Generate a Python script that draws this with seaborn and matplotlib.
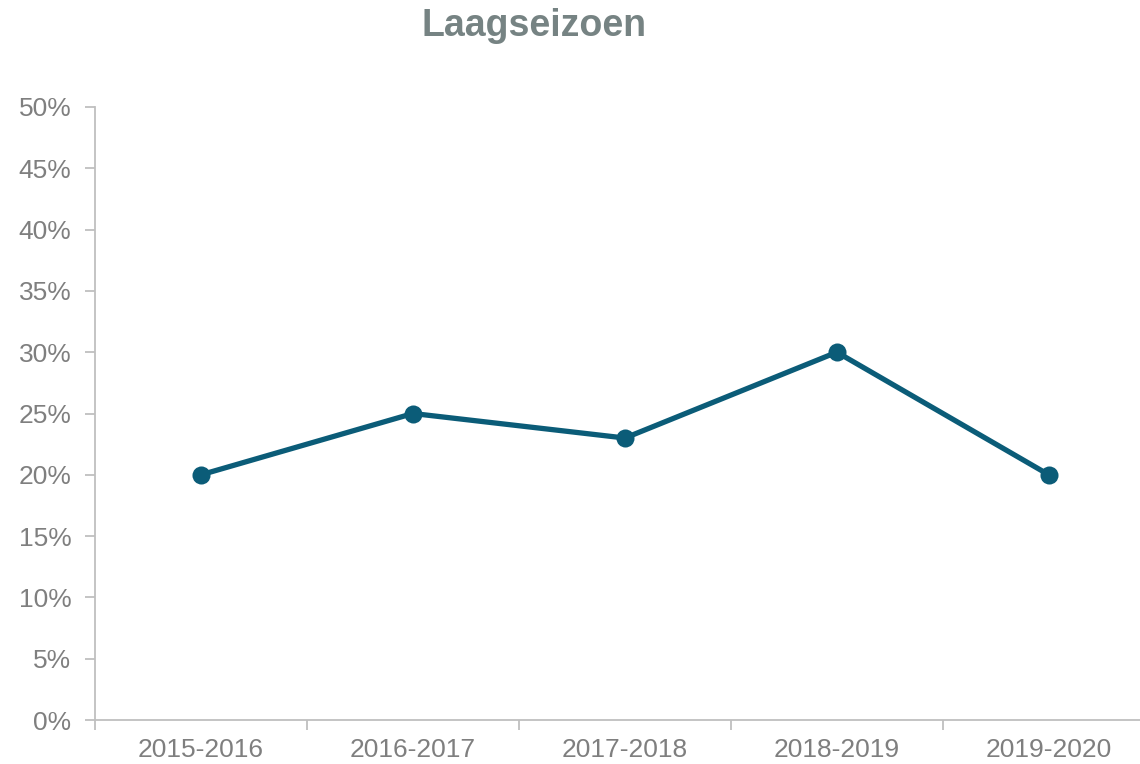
import matplotlib
matplotlib.use("Agg")
import matplotlib.pyplot as plt
import seaborn as sns
import pandas as pd
from matplotlib.ticker import FixedLocator

seasons = ["2015-2016", "2016-2017", "2017-2018", "2018-2019", "2019-2020"]
values = [20, 25, 23, 30, 20]
yticks = [0, 5, 10, 15, 20, 25, 30, 35, 40, 45, 50]
title = "Laagseizoen"

sns.set_theme(style="white")
plt.rcParams['font.family'] = ['Liberation Sans', 'DejaVu Sans']

df = pd.DataFrame({"season": seasons, "value": values})
df["x"] = range(len(seasons))

fig = plt.figure(figsize=(11.4, 7.64), dpi=100)
ax = fig.add_axes([95/1140, (764-720)/764, 1 - 95/1140, (720-107)/764])

sns.lineplot(data=df, x="x", y="value", ax=ax, color="#0b5c78", linewidth=3.8,
             marker="o", markersize=13, markeredgewidth=0, legend=False)

ax.set_xlim(-0.5, 4.43)
ax.set_ylim(0, 50)
ax.set_yticks(yticks)
ax.set_yticklabels([f"{v}%" for v in yticks])
ax.set_xticks(range(len(seasons)))
ax.set_xticklabels(seasons)
ax.xaxis.set_minor_locator(FixedLocator([i - 0.5 for i in range(len(seasons) + 1)]))
ax.tick_params(axis="x", which="major", length=0, pad=13, labelsize=19, labelcolor="#7f7f7f")
ax.tick_params(axis="x", which="minor", length=7, width=1.3, color="#bfbfbf", bottom=True)
ax.tick_params(axis="y", length=7, width=1.3, color="#bfbfbf", pad=10, labelsize=19,
               labelcolor="#7f7f7f", left=True)
ax.set_xlabel("")
ax.set_ylabel("")
for s in ["top", "right"]:
    ax.spines[s].set_visible(False)
for s in ["left", "bottom"]:
    ax.spines[s].set_color("#bfbfbf")
    ax.spines[s].set_linewidth(1.3)

fig.text(534/1140, 1 - 26/764, title, ha="center", va="center", fontsize=27,
         fontweight="bold", color="#768383")

fig.savefig("out.png", dpi=100)
